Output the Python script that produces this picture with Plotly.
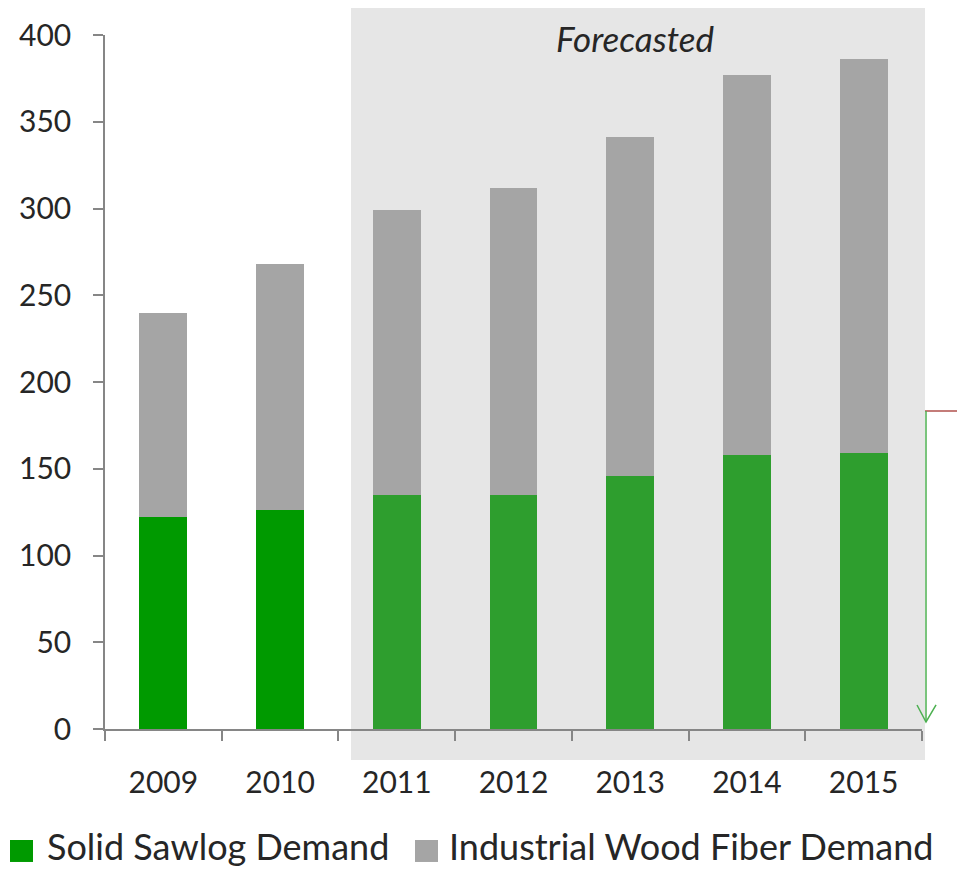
import plotly.graph_objects as go

years = ["2009", "2010", "2011", "2012", "2013", "2014", "2015"]
sawlog = [122, 126, 135, 135, 146, 158, 159]
fiber = [118, 142, 164, 177, 195, 219, 227]
forecast_from = "2011"
y_ticks = [0, 50, 100, 150, 200, 250, 300, 350, 400]

GREEN_HIST = "#009A00"
GREEN_FC = "#2E9E2E"
GRAY = "#A5A5A5"
SHADE = "#E6E6E6"
TXT = "#262626"
FONT = "Lato"

fc_idx = years.index(forecast_from)
green_colors = [GREEN_HIST if i < fc_idx else GREEN_FC for i in range(len(years))]

fig = go.Figure()
fig.add_trace(go.Bar(x=years, y=sawlog, name="Solid Sawlog Demand",
                     marker=dict(color=green_colors, line=dict(width=0)), showlegend=False))
fig.add_trace(go.Bar(x=years, y=fiber, name="Industrial Wood Fiber Demand",
                     marker=dict(color=GRAY, line=dict(width=0)), showlegend=False))

shapes = [
    # forecast shading
    dict(type="rect", xref="paper", yref="paper", x0=0.3011, x1=1.0037, y0=-0.0447, y1=1.0389,
         fillcolor=SHADE, line=dict(width=0), layer="below"),
    # fragment of connector on the right
    dict(type="line", xref="paper", yref="paper", x0=1.0037, x1=1.05, y0=0.4582, y1=0.4582,
         line=dict(color="#B0504D", width=1.5)),
    dict(type="line", xref="paper", yref="paper", x0=1.0049, x1=1.0049, y0=0.4582, y1=0.0101,
         line=dict(color="#4CB050", width=1.5)),
    dict(type="path", xref="paper", yref="paper",
         path="M 0.9939 0.0346 L 1.0049 0.0101 L 1.0172 0.0346",
         line=dict(color="#4CB050", width=1.5)),
    # legend squares
    dict(type="rect", xref="paper", yref="paper", x0=-0.1163, x1=-0.0881, y0=-0.1916, y1=-0.1599,
         fillcolor=GREEN_HIST, line=dict(width=0)),
    dict(type="rect", xref="paper", yref="paper", x0=0.3794, x1=0.4076, y0=-0.1916, y1=-0.1599,
         fillcolor=GRAY, line=dict(width=0)),
]

annotations = [
    dict(text="<i>Forecasted</i>", xref="paper", yref="paper", x=0.6487, y=0.9960,
         xanchor="center", yanchor="middle", showarrow=False,
         font=dict(family=FONT, size=35, color=TXT)),
    dict(text="Solid Sawlog Demand", xref="paper", yref="paper", x=-0.0734, y=-0.1686,
         xanchor="left", yanchor="middle", showarrow=False,
         font=dict(family=FONT, size=36, color=TXT)),
    dict(text="Industrial Wood Fiber Demand", xref="paper", yref="paper", x=0.4186, y=-0.1686,
         xanchor="left", yanchor="middle", showarrow=False,
         font=dict(family=FONT, size=36, color=TXT)),
]

fig.update_layout(
    barmode="stack",
    bargap=0.59,
    width=957, height=870, autosize=False,
    margin=dict(l=105, r=35, t=35, b=141, pad=0),
    paper_bgcolor="white", plot_bgcolor="rgba(0,0,0,0)",
    shapes=shapes, annotations=annotations,
    showlegend=False,
    font=dict(family=FONT, color=TXT),
)
fig.update_xaxes(
    showgrid=False, showline=True, linecolor="#868686", linewidth=1.5,
    ticks="outside", tickson="boundaries", ticklen=10, tickcolor="#868686", tickwidth=1.5,
    tickfont=dict(family=FONT, size=30, color=TXT), ticklabelstandoff=26,
    zeroline=False,
)
fig.update_yaxes(
    range=[0, 400], tickvals=y_ticks, showgrid=False, showline=True,
    linecolor="#868686", linewidth=1.5,
    ticks="outside", ticklen=10, tickcolor="#868686", tickwidth=1.5,
    tickfont=dict(family=FONT, size=30, color=TXT), ticklabelstandoff=16,
    zeroline=False,
)

fig.write_html("out.html", config={"displayModeBar": False},
               post_script="document.body.style.margin='0';document.body.style.overflow='hidden';")
